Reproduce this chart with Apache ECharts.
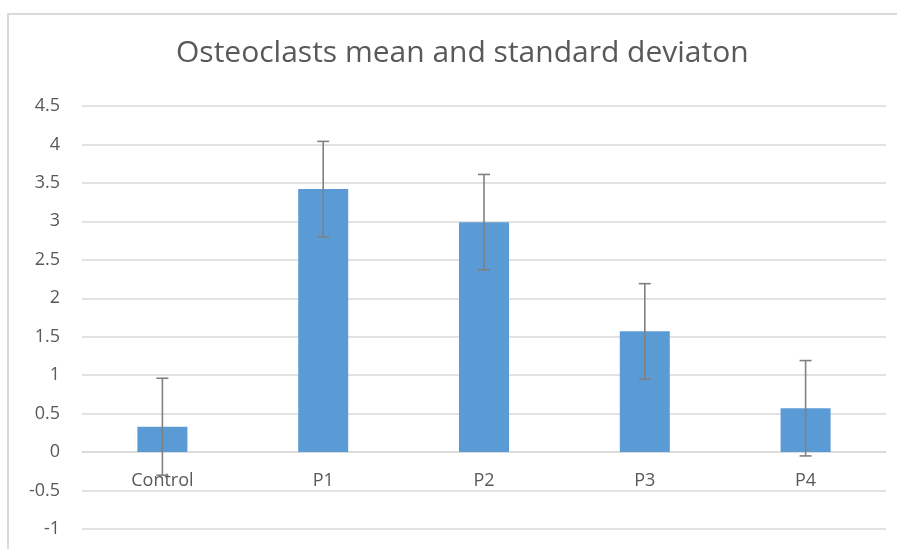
<!DOCTYPE html>
<html>
<head>
<meta charset="utf-8">
<script src="https://cdn.jsdelivr.net/npm/echarts@6/dist/echarts.min.js"></script>
<style>html,body{margin:0;padding:0;background:#fff;}#c{width:897px;height:549px;}</style>
</head>
<body>
<div id="c"></div>
<script>
const categories = ['Control', 'P1', 'P2', 'P3', 'P4'];
const means = [0.33, 3.42, 2.99, 1.57, 0.57];
const stdDevs = [0.63, 0.62, 0.62, 0.62, 0.62];
const yMin = -1, yMax = 4.5, yStep = 0.5;

const errorData = categories.map((c, i) => [i, means[i] - stdDevs[i], means[i] + stdDevs[i]]);
const labelData = categories.map((c, i) => [i, 0]);

const chart = echarts.init(document.getElementById('c'));
chart.setOption({
  animation: false,
  backgroundColor: '#fff',
  graphic: [{
    type: 'rect', shape: { x: 8, y: 14, width: 900, height: 560 },
    style: { fill: 'none', stroke: '#d9d9d9', lineWidth: 2 }, silent: true, z: -1
  }],
  title: {
    text: 'Osteoclasts mean and standard deviaton',
    left: 171, top: 33,
    textStyle: { fontFamily: 'Open Sans', fontWeight: 'normal', fontSize: 30, color: '#595959' }
  },
  grid: { left: 82, right: 11, top: 106, bottom: 20, outerBoundsMode: 'none', containLabel: false },
  xAxis: {
    type: 'category', data: categories,
    axisLine: { onZero: true, lineStyle: { color: '#d9d9d9', width: 1.5 } },
    axisTick: { show: false },
    axisLabel: { show: false }
  },
  yAxis: {
    type: 'value', min: yMin, max: yMax, interval: yStep,
    axisLine: { show: false }, axisTick: { show: false },
    splitLine: { lineStyle: { color: '#d9d9d9', width: 1.5 } },
    axisLabel: { fontFamily: 'Open Sans', fontSize: 18, color: '#595959', margin: 22 }
  },
  series: [{
    type: 'bar', data: means, barWidth: 50,
    itemStyle: { color: '#5b9bd5' }
  }, {
    type: 'custom', data: errorData,
    renderItem: function (params, api) {
      const x = api.value(0);
      const lo = api.coord([x, api.value(1)]);
      const hi = api.coord([x, api.value(2)]);
      const hw = 6;
      const st = { stroke: '#808080', lineWidth: 1.6 };
      return { type: 'group', children: [
        { type: 'line', shape: { x1: hi[0], y1: hi[1], x2: lo[0], y2: lo[1] }, style: st },
        { type: 'line', shape: { x1: hi[0] - hw, y1: hi[1], x2: hi[0] + hw, y2: hi[1] }, style: st },
        { type: 'line', shape: { x1: lo[0] - hw, y1: lo[1], x2: lo[0] + hw, y2: lo[1] }, style: st }
      ]};
    },
    z: 10
  }, {
    type: 'custom', data: labelData,
    renderItem: function (params, api) {
      const p = api.coord([api.value(0), api.value(1)]);
      return { type: 'text', style: {
        text: categories[params.dataIndex], x: p[0], y: p[1] + 29,
        align: 'center', verticalAlign: 'middle',
        font: '18px "Open Sans"', fill: '#595959'
      }};
    },
    z: 5
  }]
});
</script>
</body>
</html>
